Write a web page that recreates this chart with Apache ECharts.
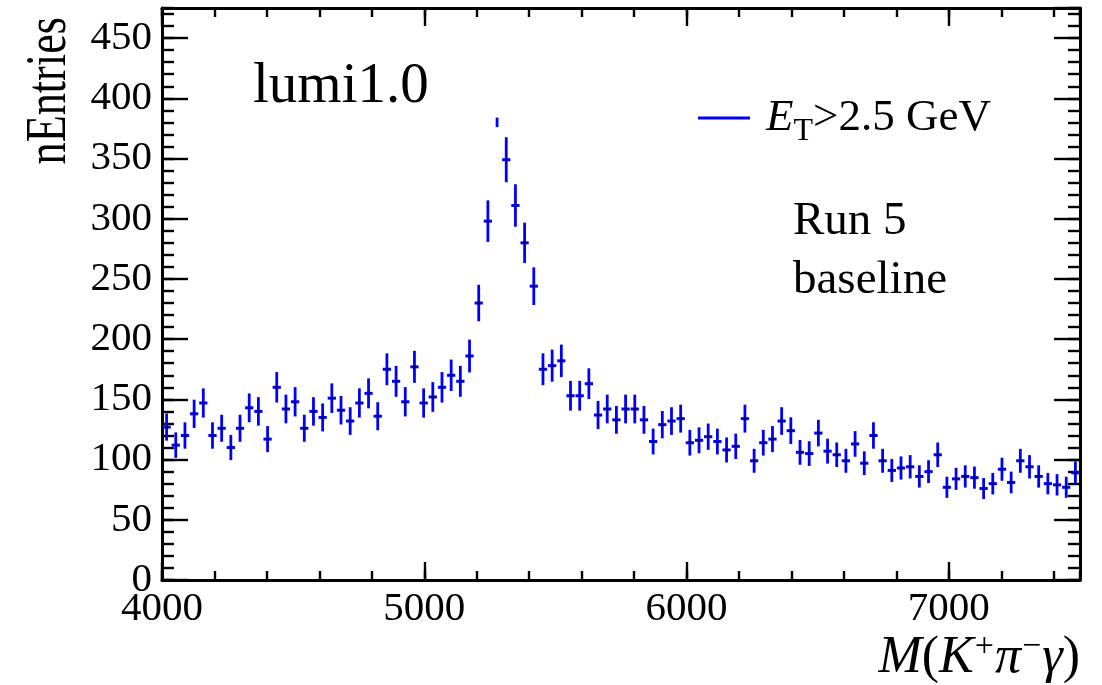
<!DOCTYPE html>
<html>
<head>
<meta charset="utf-8">
<script src="https://cdn.jsdelivr.net/npm/echarts@6/dist/echarts.min.js"></script>
<style>html,body{margin:0;padding:0;background:#fff}#c{width:1102px;height:685px}</style>
</head>
<body>
<div id="c"></div>
<script>
// Histogram definition
const binLow = 4000;
const binWidth = 35;
const counts = [
  127,112,120,138,147,120,126,110,126,143,
  140,117,160,142,148,126,140,135,151,141,
  132,147,155,136,175,165,148,177,147,152,
  160,170,165,186,230,298,396,349,311,280,
  244,175,178,182,153,153,163,137,142,133,
  142,142,133,115,129,132,134,114,116,119,
  115,108,111,134,99,114,117,132,124,106,
  105,122,107,104,99,113,97,120,99,91,
  93,94,86,90,104,77,84,86,85,76,
  80,92,81,99,94,86,80,79,77,89
];
const histMaximum = 384;          // drawn histogram is clipped here
const xRange = [4000, 7500];
const yRange = [0, 475];
const seriesName = 'ET>2.5 GeV';

const FONT = "'Liberation Serif','Times New Roman',serif";
const data = counts.map((n, i) => [binLow + binWidth * (i + 0.5), n, Math.sqrt(n)]);

const chart = echarts.init(document.getElementById('c'), null, {renderer: 'canvas'});
const lineCol = '#000';
function xAx(pos, interval, len, labels, line) {
  return {
    type: 'value', min: xRange[0], max: xRange[1], interval: interval, position: pos,
    axisLine: {show: line, onZero: false, lineStyle: {color: lineCol, width: 3}},
    axisTick: {show: true, inside: true, length: len, lineStyle: {color: lineCol, width: 2.4}},
    axisLabel: {show: labels, showMaxLabel: false, margin: 9, fontSize: 41, fontFamily: FONT, color: '#000',
      formatter: v => String(v)},
    splitLine: {show: false}
  };
}
function yAx(pos, interval, len, labels, line) {
  return {
    type: 'value', min: yRange[0], max: yRange[1], interval: interval, position: pos,
    axisLine: {show: line, onZero: false, lineStyle: {color: lineCol, width: 3}},
    axisTick: {show: true, inside: true, length: len, lineStyle: {color: lineCol, width: 2.4}},
    axisLabel: {show: labels, showMaxLabel: false, margin: 10, fontSize: 41, fontFamily: FONT, color: '#000',
      formatter: v => String(v)},
    splitLine: {show: false}
  };
}

const option = {
  backgroundColor: '#fff',
  animation: false,
  grid: {left: 162, right: 22, top: 8, bottom: 105, containLabel: false},
  xAxis: [
    xAx('bottom', 1000, 18, true, true),
    xAx('bottom', 200, 9, false, false),
    xAx('top', 1000, 18, false, true),
    xAx('top', 200, 9, false, false)
  ],
  yAxis: [
    yAx('left', 50, 26, true, true),
    yAx('left', 10, 12, false, false),
    yAx('right', 50, 26, false, true),
    yAx('right', 10, 12, false, false)
  ],
  legend: {
    data: [seriesName], left: 698, top: 88, padding: 0,
    icon: 'rect', itemWidth: 52, itemHeight: 3,
    formatter: () => '{e|E}{t|T}{n|>2.5 GeV}',
    textStyle: {
      rich: {
        e: {fontFamily: FONT, fontSize: 45, fontStyle: 'italic', color: '#000', lineHeight: 62, padding: [0, 0, 0, 11]},
        t: {fontFamily: FONT, fontSize: 32, color: '#000', lineHeight: 62, padding: [28, 0, 0, 0]},
        n: {fontFamily: FONT, fontSize: 45, color: '#000', lineHeight: 62}
      }
    }
  },
  graphic: [
    {type: 'text', left: 253, top: 59, style: {text: 'lumi1.0', font: "57px " + FONT, fill: '#000'}},
    {type: 'text', x: 793, y: 222, style: {text: 'Run 5', font: "47px " + FONT, fill: '#000', textVerticalAlign: 'middle'}},
    {type: 'text', x: 793, y: 281, style: {text: 'baseline', font: "47px " + FONT, fill: '#000', textVerticalAlign: 'middle'}},
    {type: 'text', x: 50, y: 17, rotation: Math.PI / 2, scaleX: 0.79,
      style: {text: 'nEntries', font: "56px " + FONT, fill: '#000', textAlign: 'right', textVerticalAlign: 'middle'}},
    {type: 'text', right: 22, top: 630,
      style: {
        text: '{i|M}{r|(}{i|K}{s|+}{i|π}{s|−}{i|γ}{r|)}',
        rich: {
          i: {fontFamily: FONT, fontSize: 52, fontStyle: 'italic', fill: '#000', lineHeight: 56},
          r: {fontFamily: FONT, fontSize: 52, fill: '#000', lineHeight: 56},
          s: {fontFamily: FONT, fontSize: 34, fill: '#000', lineHeight: 56, verticalAlign: 'top', padding: [0, 1, 0, 1]}
        }
      }}
  ],
  series: [{
    name: seriesName,
    type: 'custom',
    xAxisIndex: 0, yAxisIndex: 0,
    clip: true,
    itemStyle: {color: '#0000ff'},
    encode: {x: 0, y: 1},
    data: data,
    renderItem: function (params, api) {
      const x = api.value(0), y = api.value(1), e = api.value(2);
      const lo = Math.max(yRange[0], y - e), hi = Math.min(histMaximum, y + e);
      const children = [];
      if (hi > lo) {
        const a = api.coord([x, lo]), b = api.coord([x, hi]);
        children.push({type: 'line', shape: {x1: a[0], y1: a[1], x2: b[0], y2: b[1]},
          style: {stroke: '#0000ff', lineWidth: 2.8}});
      }
      if (y <= histMaximum) {
        const l = api.coord([x - binWidth * 0.45, y]), r = api.coord([x + binWidth * 0.45, y]);
        children.push({type: 'line', shape: {x1: l[0], y1: l[1], x2: r[0], y2: r[1]},
          style: {stroke: '#0000ff', lineWidth: 3}});
        const c = api.coord([x, y]);
        children.push({type: 'rect', shape: {x: c[0] - 1, y: c[1] - 1, width: 2, height: 2},
          style: {fill: '#000'}});
      }
      return {type: 'group', children: children};
    }
  }]
};
chart.setOption(option);
</script>
</body>
</html>
